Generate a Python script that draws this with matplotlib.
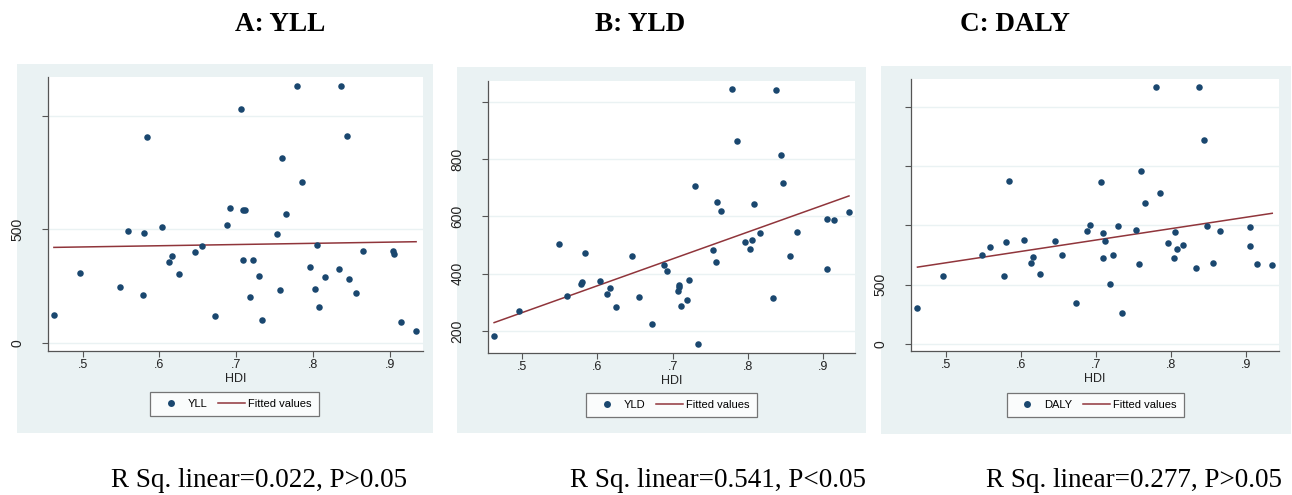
import numpy as np
import matplotlib as mpl; mpl.use("Agg")
import matplotlib.pyplot as plt
from matplotlib.patches import Rectangle
from matplotlib.lines import Line2D

# ---- data (45 countries) ----
hdi = [0.462, 0.496, 0.549, 0.559, 0.578, 0.580, 0.584, 0.604, 0.613, 0.616,
       0.625, 0.646, 0.655, 0.673, 0.688, 0.692, 0.7065, 0.709, 0.7088, 0.7115,
       0.7185, 0.7223, 0.7294, 0.7343, 0.7534, 0.7572, 0.7594, 0.7646, 0.7793, 0.7854,
       0.7964, 0.8033, 0.8055, 0.8076, 0.8162, 0.8334, 0.8372, 0.8442, 0.8473, 0.8563,
       0.8652, 0.905, 0.9055, 0.9144, 0.9345]
yll = [124, 309, 246, 494, 212, 485, 909, 509, 356, 384,
       303, 400, 429, 119, 519, 594, 1029, 366, 584, 584,
       203, 366, 294, 100, 482, 234, 816, 569, 1132, 710,
       335, 238, 431, 157, 291, 324, 1132, 913, 282, 222,
       406, 406, 394, 91, 54]
yld = [181, 270, 505, 322, 362, 372, 472, 373, 329, 350,
       284, 462, 319, 224, 429, 409, 341, 360, 354, 287,
       307, 376, 705, 153, 481, 440, 649, 620, 1044, 862,
       512, 485, 516, 643, 543, 316, 1042, 813, 717, 463,
       544, 417, 589, 587, 615]
daly = [305, 576, 751, 816, 571, 859, 1379, 879, 686, 734,
        585, 864, 746, 345, 949, 1003, 1367, 726, 938, 867,
        508, 746, 997, 257, 963, 672, 1460, 1186, 2169, 1271,
        850, 726, 946, 799, 836, 641, 2167, 1723, 997, 684,
        952, 822, 983, 675, 667]

# fitted lines (end points as drawn)
fit_x = [0.4625, 0.9345]
fit_yll = [421, 446]
fit_yld = [229, 671]
fit_daly = [647, 1102]

titles = ["A: YLL", "B: YLD", "C: DALY"]
notes = ["R Sq. linear=0.022, P>0.05", "R Sq. linear=0.541, P<0.05", "R Sq. linear=0.277, P>0.05"]
names = ["YLL", "YLD", "DALY"]
xticks = [0.5, 0.6, 0.7, 0.8, 0.9]
xticklabels = [".5", ".6", ".7", ".8", ".9"]
yticks = [[0, 500, 1000], [200, 400, 600, 800, 1000], [0, 500, 1000, 1500, 2000]]
yticklabels = [["0", "500", ""], ["200", "400", "600", "800", ""], ["0", "500", "", "", ""]]

# ---- layout in pixels ----
W, H = 1292, 495
GRAY = (17, 64, 433, 433), (457, 67, 866, 433), (881, 66, 1291, 434)
AXES = (48, 77, 423, 351), (488, 81, 855, 353), (911, 79, 1279, 351)
XLIM = (0.4548, 0.9435), (0.4544, 0.9425), (0.4539, 0.9435)
YLIM = (-35, 1171), (123, 1072), (-62, 2237)
LEG = (234.5, 392), (671.5, 393), (1095.5, 393)
TITLE_X = [280, 640, 1015]
NOTE_X = [259.5, 718.5, 1134]

NAVY = "#1a476f"; MAROON = "#90353b"; BG = "#eaf2f3"; AX = "#555555"

mpl.rcParams.update({"font.family": ["Liberation Sans", "DejaVu Sans"], "font.size": 8})

fig = plt.figure(figsize=(W / 100, H / 100), dpi=100)
ys = [yll, yld, daly]
fits = [fit_yll, fit_yld, fit_daly]

def fx(px): return px / W
def fy(py): return 1 - py / H

for i in range(3):
    g = GRAY[i]
    fig.patches.append(Rectangle((fx(g[0]), fy(g[3])), (g[2] - g[0]) / W, (g[3] - g[1]) / H,
                                 transform=fig.transFigure, facecolor=BG, edgecolor="none", zorder=-5))
    a = AXES[i]
    ax = fig.add_axes([fx(a[0]), fy(a[3]), (a[2] - a[0]) / W, (a[3] - a[1]) / H])
    ax.set_facecolor("white")
    for s in ["top", "right"]:
        ax.spines[s].set_visible(False)
    for s in ["left", "bottom"]:
        ax.spines[s].set_color(AX); ax.spines[s].set_linewidth(0.9)
    ax.set_xlim(*XLIM[i]); ax.set_ylim(*YLIM[i])
    ax.set_yticks(yticks[i]); ax.set_yticklabels(yticklabels[i], rotation=90, va="center")
    ax.set_xticks(xticks); ax.set_xticklabels(xticklabels)
    ax.tick_params(colors=AX, labelcolor="#222222", length=4, width=0.8, labelsize=9, pad=2)
    ax.tick_params(axis="y", pad=13, labelsize=10)
    ax.grid(axis="y", color=BG, linewidth=1.0)
    ax.set_axisbelow(True)
    ax.scatter(hdi, ys[i], s=22, c=NAVY, linewidths=0, zorder=3)
    ax.plot(fit_x, fits[i], color=MAROON, lw=1.1, zorder=2)
    ax.set_xlabel("HDI", fontsize=9, labelpad=1, color="#222222")
    handles = [Line2D([0], [0], marker="o", ls="", mfc=NAVY, mec="none", ms=5, label=names[i]),
               Line2D([0], [0], color=MAROON, lw=1.1, label="Fitted values")]
    lx, ly = LEG[i]
    leg = ax.legend(handles=handles, ncol=2, loc="upper center", bbox_to_anchor=(fx(lx), fy(ly)),
                    bbox_transform=fig.transFigure, frameon=True, fancybox=False, fontsize=8,
                    handlelength=2.4, handletextpad=0.3, columnspacing=1.0, borderpad=0.65,
                    borderaxespad=0)
    leg.get_frame().set_edgecolor(AX); leg.get_frame().set_linewidth(0.9)
    fig.text(fx(TITLE_X[i]), fy(31), titles[i], ha="center", va="baseline",
             family="Liberation Serif", fontweight="bold", fontsize=19.5)
    fig.text(fx(NOTE_X[i]), fy(487), notes[i], ha="center", va="baseline",
             family="Liberation Serif", fontsize=19.5)

fig.savefig("out.png", dpi=100)
